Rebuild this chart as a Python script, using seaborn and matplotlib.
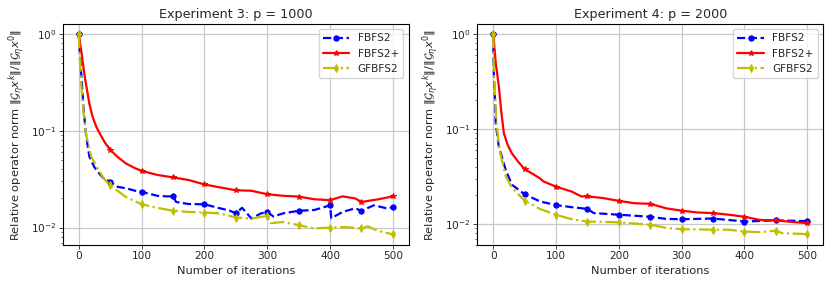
import numpy as np
import pandas as pd
import matplotlib
matplotlib.use("Agg")
import matplotlib.pyplot as plt
import seaborn as sns

# ---------------- data ----------------
# Experiment 3: p = 1000
exp3_it_fbfs2 = [0, 2, 4, 8, 12, 17, 25, 33, 40, 50, 60, 75, 90, 100, 125, 140, 150, 155, 175, 200, 225, 240,
                 250, 260, 275, 290, 300, 310, 325, 350, 375, 390, 400, 402, 420, 440, 450, 470, 490, 500]
exp3_fbfs2 = [1.0, 0.6, 0.39, 0.16, 0.087, 0.054, 0.042, 0.036, 0.032, 0.0297, 0.0265, 0.0255, 0.024, 0.0234,
              0.0213, 0.021, 0.021, 0.0184, 0.0175, 0.0174, 0.0158, 0.015, 0.014, 0.016, 0.0124, 0.014, 0.0145,
              0.013, 0.014, 0.0149, 0.0152, 0.0162, 0.017, 0.0125, 0.0145, 0.0158, 0.0149, 0.017, 0.0158, 0.0162]

exp3_it_fbfs2p = [0, 2, 4, 7, 10, 17, 22, 28, 35, 42, 50, 60, 75, 90, 100, 125, 150, 175, 200, 225, 250, 275,
                  300, 325, 350, 375, 400, 420, 440, 450, 475, 500]
exp3_fbfs2p = [1.0, 0.8, 0.68, 0.48, 0.35, 0.19, 0.14, 0.11, 0.09, 0.075, 0.064, 0.055, 0.046, 0.041, 0.0386,
               0.035, 0.033, 0.031, 0.0279, 0.026, 0.0243, 0.024, 0.0221, 0.0213, 0.0209, 0.0196, 0.0192,
               0.021, 0.020, 0.0184, 0.0195, 0.021]

exp3_it_gfbfs2 = [0, 2, 4, 8, 12, 20, 30, 40, 50, 75, 100, 125, 150, 175, 200, 225, 250, 275, 300, 305, 325,
                  350, 375, 400, 425, 450, 460, 475, 500]
exp3_gfbfs2 = [1.0, 0.5, 0.3, 0.15, 0.09, 0.054, 0.041, 0.032, 0.0274, 0.0207, 0.0174, 0.016, 0.0149, 0.0145,
               0.0143, 0.0140, 0.0127, 0.0124, 0.0132, 0.0111, 0.0114, 0.0106, 0.0098, 0.0100, 0.0101, 0.0098,
               0.0103, 0.0093, 0.0085]

# Experiment 4: p = 2000
exp4_it_fbfs2 = [0, 1, 2, 3, 4, 9, 20, 30, 40, 50, 75, 100, 125, 150, 160, 200, 250, 275, 300, 350, 375, 400,
                 450, 500]
exp4_fbfs2 = [1.0, 0.385, 0.26, 0.2, 0.115, 0.065, 0.037, 0.0258, 0.023, 0.0205, 0.0172, 0.0158, 0.015,
              0.0144, 0.0130, 0.0125, 0.0119, 0.0113, 0.0112, 0.0114, 0.0110, 0.0106, 0.0109, 0.0107]

exp4_it_fbfs2p = [0, 1, 4, 9, 13, 17, 23, 30, 40, 50, 65, 75, 80, 100, 125, 140, 150, 175, 200, 225, 250, 275,
                  300, 325, 350, 375, 400, 425, 450, 475, 500]
exp4_fbfs2p = [1.0, 0.86, 0.5, 0.28, 0.15, 0.09, 0.068, 0.055, 0.045, 0.0376, 0.033, 0.030, 0.028, 0.0247,
               0.0219, 0.0195, 0.0195, 0.0187, 0.0175, 0.0165, 0.0163, 0.0146, 0.0138, 0.0132, 0.0130, 0.0125,
               0.0119, 0.0110, 0.0109, 0.0105, 0.0102]

exp4_it_gfbfs2 = [0, 1, 2, 5, 10, 20, 30, 40, 50, 75, 100, 125, 150, 200, 250, 275, 300, 350, 375, 400, 425,
                  450, 460, 500]
exp4_gfbfs2 = [1.0, 0.45, 0.3, 0.12, 0.06, 0.032, 0.024, 0.0205, 0.0176, 0.0143, 0.0125, 0.0112, 0.0106,
               0.0104, 0.0098, 0.0091, 0.0088, 0.0087, 0.0087, 0.0083, 0.0082, 0.0085, 0.0080, 0.0078]

titles = ["Experiment 3: p = 1000", "Experiment 4: p = 2000"]
labels = ["FBFS2", "FBFS2+", "GFBFS2"]
xticks = [0, 100, 200, 300, 400, 500]

panels = [
    [(exp3_it_fbfs2, exp3_fbfs2), (exp3_it_fbfs2p, exp3_fbfs2p), (exp3_it_gfbfs2, exp3_gfbfs2)],
    [(exp4_it_fbfs2, exp4_fbfs2), (exp4_it_fbfs2p, exp4_fbfs2p), (exp4_it_gfbfs2, exp4_gfbfs2)],
]

# ---------------- styling ----------------
sns.set_style("ticks")
plt.rcParams["font.family"] = ["DejaVu Sans"]
plt.rcParams["mathtext.fontset"] = "dejavusans"
plt.rcParams["xtick.major.size"] = 2.6
plt.rcParams["ytick.major.size"] = 2.6
plt.rcParams["ytick.minor.size"] = 1.5
plt.rcParams["xtick.major.width"] = 0.6
plt.rcParams["ytick.major.width"] = 0.6
plt.rcParams["ytick.minor.width"] = 0.5

colors = ["blue", "red", "y"]
linestyles = ["--", "-", "-."]
markers = ["o", "*", "d"]
msizes = [3.8, 4.2, 4.2]

fig, axes = plt.subplots(1, 2, figsize=(8.3, 2.87), dpi=100)
fig.subplots_adjust(left=0.0759, right=0.9916, top=0.9164, bottom=0.1463, wspace=0.1994)

ylims = [(0.0066, 1.27), (0.006, 1.27)]

for ax, series, title, yl in zip(axes, panels, titles, ylims):
    for (it, vals), lab, c, ls, mk, ms in zip(series, labels, colors, linestyles, markers, msizes):
        df = pd.DataFrame({"it": it, "val": vals})
        mev = [i for i, x in enumerate(it) if x % 50 == 0]
        sns.lineplot(data=df, x="it", y="val", ax=ax, color=c, linestyle=ls, linewidth=1.6,
                     marker=mk, markersize=ms, markevery=mev, markeredgecolor=c,
                     label=lab, estimator=None, sort=False)
    ax.set_yscale("log")
    ax.set_ylim(*yl)
    ax.set_xlim(-25, 525)
    ax.set_xticks(xticks)
    ax.grid(True, which="major", color="#c8c8c8", linewidth=0.9)
    ax.set_title(title, fontsize=9.2, pad=4)
    ax.set_xlabel("Number of iterations", fontsize=8.2, labelpad=3)
    ax.set_ylabel(r"Relative operator norm $\|\mathcal{G}_\eta x^k\|/\|\mathcal{G}_\eta x^0\|$",
                  fontsize=8.2, labelpad=3)
    ax.tick_params(labelsize=7.6, pad=2)
    for s in ax.spines.values():
        s.set_color("black")
        s.set_linewidth(0.8)
    ax.legend(loc="upper right", fontsize=7.6, frameon=True, handlelength=2.5,
              borderaxespad=0.5, labelspacing=0.5)

fig.savefig("out.png", dpi=100)
